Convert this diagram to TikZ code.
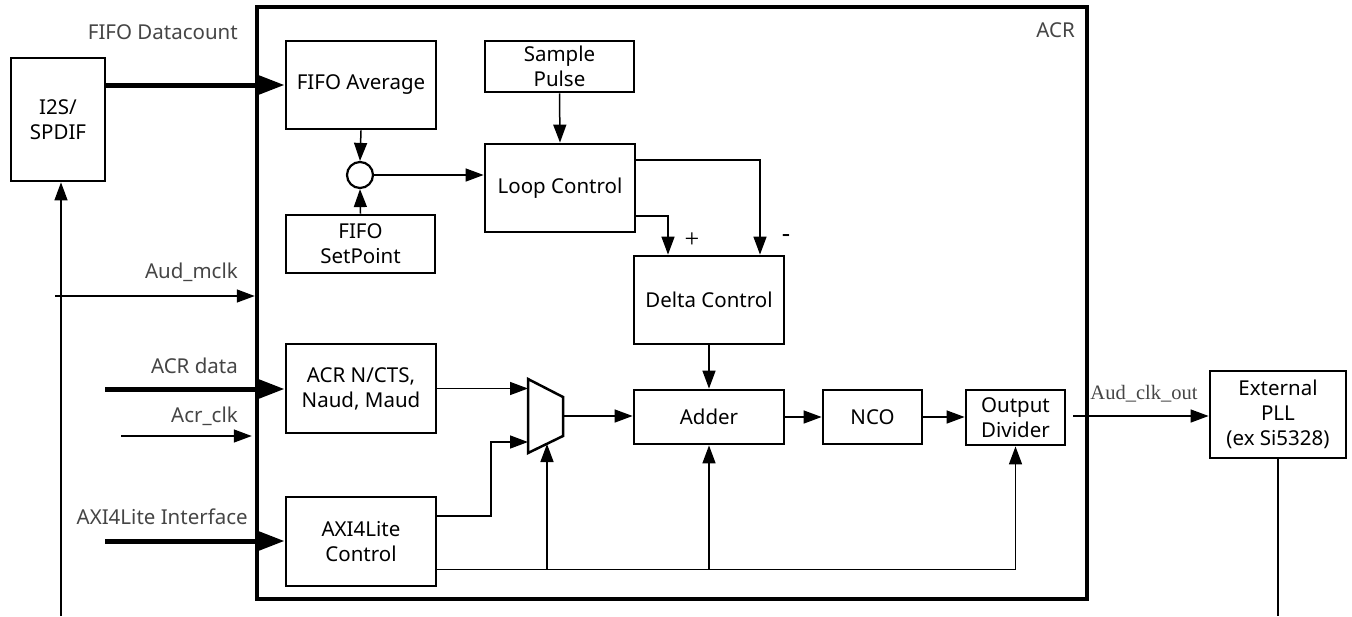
\documentclass[tikz,border=0pt]{standalone}
\usepackage{fontspec}
\setmainfont{Noto Sans}
\newfontfamily\lserif{Liberation Serif}
\usetikzlibrary{arrows.meta}
\definecolor{lblc}{HTML}{454545}
\begin{document}
\begin{tikzpicture}[x=1pt,y=-1pt,font=\fontsize{20.5}{25}\selectfont,
  blk/.style={draw,line width=2.8pt,align=center,inner sep=0pt},
  thin/.style={line width=1.5pt},
  tip/.style={-{Triangle[length=18pt,width=13pt]}},
  bigtip/.style={line width=5pt,-{Triangle[length=27pt,width=19pt]}},
  lbl/.style={text=lblc,anchor=east,inner sep=0pt}]
\useasboundingbox (0,0) rectangle (1352,616);

% outer ACR block
\node[draw,line width=4.5pt,minimum width=830,minimum height=592,inner sep=0pt] (acr) at (672,303) {};
\node[lbl] (acrl) at (1075,30) {ACR};

% blocks
\node[blk,minimum width=94,minimum height=123] (i2s) at (58,119.5) {I2S/\\SPDIF};
\node[blk,minimum width=150,minimum height=88] (fifoavg) at (361,85) {FIFO Average};
\node[draw,circle,line width=2.2pt,minimum size=26,inner sep=0pt] (circ) at (360,175) {};
\node[blk,minimum width=149,minimum height=58] (setp) at (360.5,244) {FIFO\\SetPoint};
\node[blk,minimum width=149,minimum height=51] (samp) at (559.5,66.5) {Sample\\Pulse};
\node[blk,minimum width=150,minimum height=88] (loop) at (560,188) {Loop Control};
\node[blk,minimum width=150,minimum height=88] (delta) at (709,300) {Delta Control};
\node[blk,minimum width=150,minimum height=54] (adder) at (709,417) {Adder};
\node[blk,minimum width=99,minimum height=54] (nco) at (872.5,417) {NCO};
\node[blk,minimum width=99,minimum height=55] (odiv) at (1015.5,417.5) {Output\\Divider};
\node[blk,minimum width=136,minimum height=87] (pll) at (1278,414.5) {External\\PLL\\(ex Si5328)};
\node[blk,minimum width=150,minimum height=89] (acrn) at (361,388.5) {ACR N/CTS,\\Naud, Maud};
\node[blk,minimum width=150,minimum height=89] (axi) at (361,541.5) {AXI4Lite\\Control};

% mux
\draw[line width=2.5pt,line join=miter] (528,379) coordinate (m1) -- (563,397) -- (563,436) -- (528,453) -- cycle;
\coordinate (mi2) at (528,442);
\coordinate (mo) at (563,416);
\coordinate (ms) at (547,444);

% external labels
\node[lbl] (l1) at (238,32) {FIFO Datacount};
\node[lbl] (l2) at (238,272) {Aud\_mclk};
\node[lbl] (l3) at (238,366) {ACR data};
\node[lbl] (l4) at (238,416) {Acr\_clk};
\node[lbl] (l5) at (248,517) {AXI4Lite Interface};
\node[text=lblc,inner sep=0pt,font=\lserif\fontsize{20.5}{24}\selectfont] (l6) at (1144,394) {Aud\_clk\_out};
\node[inner sep=0pt,font=\lserif\fontsize{26}{28}\selectfont] (plus) at (692,240) {+};
\node[inner sep=0pt,font=\fontsize{26}{28}\selectfont] (minus) at (786,239) {-};

% connectors
\draw[bigtip] (i2s.east |- fifoavg.west) -- (fifoavg.west);
\draw[thin,tip] (fifoavg.south) -- (circ.north);
\draw[thin,tip] (setp.north) -- (circ.south);
\draw[thin,tip] (circ.east) -- (circ.east -| loop.west);
\draw[thin,tip] (samp.south) -- (loop.north);
\draw[thin,tip] ([yshift=28pt]loop.east) -| ([xshift=51pt]delta.north);
\draw[thin,tip] ([yshift=-28pt]loop.east) -| ([xshift=-41pt]delta.north);
\draw[thin,tip] (delta.south) -- (adder.north);
\draw[thin,tip] (acrn.east) -- (acrn.east -| m1);
\draw[thin,tip] ([yshift=25.5pt]axi.east) -- (491,516) |- (mi2);
\draw[thin,tip] (mo) -- (mo -| adder.west);
\coordinate (bus) at ([yshift=-28pt]axi.east);
\draw[thin,tip] (bus) -| (odiv.south);
\draw[thin,tip] (ms |- bus) -- (ms);
\draw[thin,tip] (adder.south |- bus) -- (adder.south);
\draw[thin,tip] (adder.east) -- (nco.west);
\draw[thin,tip] (nco.east) -- (nco.east -| odiv.west);
\coordinate (oo) at (1073,416);
\draw[thin,tip] (oo) -- (oo -| pll.west);
\coordinate (pllb) at (1278,616);
\draw[thin] (pll.south) -- (pllb);
\coordinate (i2sb) at (61,616);
\draw[thin,tip] (i2sb) -- (i2sb |- i2s.south);
\coordinate (mclk) at (55,296);
\draw[thin,tip] (mclk) -- (mclk -| acr.west);
\coordinate (ad) at (105,389);
\draw[bigtip] (ad) -- (ad -| acrn.west);
\coordinate (ac) at (121,436);
\draw[thin,tip,shorten >=3pt] (ac) -- (ac -| acr.west);
\coordinate (ax) at (105,541);
\draw[bigtip] (ax) -- (ax -| axi.west);
\end{tikzpicture}
\end{document}
